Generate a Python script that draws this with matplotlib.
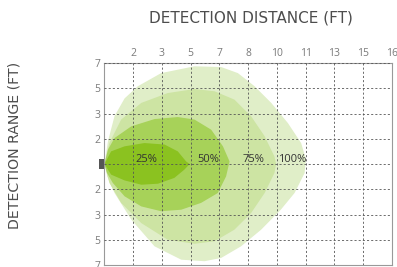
import matplotlib
matplotlib.use("Agg")
import matplotlib.pyplot as plt
from matplotlib.patches import Polygon, Rectangle

# Axis tick labels
x_tick_labels = ["2", "3", "5", "7", "8", "10", "11", "13", "15", "16"]
y_tick_labels = ["7", "5", "3", "2", "", "2", "3", "5", "7"]

# Coverage zones (boundary outlines, grid units; x = distance index, y = range index)
zone_names = ["100%", "75%", "50%", "25%"]
zone100_x = [0, 0.12, 0.35, 0.7, 1.16, 1.97, 3.13, 4.06, 4.64, 5.22, 5.8, 6.38, 6.84, 7.01,
             6.96, 6.61, 6.14, 5.45, 4.75, 4.06, 3.48, 2.67, 1.74, 0.93, 0.35, 0.1]
zone100_y = [0, 0.9, 1.9, 2.6, 3.08, 3.6, 3.87, 3.84, 3.6, 3.08, 2.42, 1.62, 0.83, 0.17,
             -0.36, -1.15, -1.8, -2.6, -3.26, -3.72, -3.85, -3.79, -3.26, -2.2, -1.15, -0.5]
zone75_x = [0, 0.17, 0.58, 1.28, 2.2, 3.13, 3.83, 4.52, 5.1, 5.57, 5.91, 5.97,
            5.91, 5.57, 5.1, 4.52, 3.83, 3.13, 2.2, 1.28, 0.58, 0.17]
zone75_y = [0, 0.83, 1.76, 2.42, 2.81, 2.97, 2.88, 2.55, 1.89, 1.1, 0.3, 0,
            -0.36, -1.15, -1.94, -2.6, -3.06, -3.16, -3.0, -2.34, -1.54, -0.75]
zone50_x = [0, 0.12, 0.35, 0.93, 1.74, 2.55, 3.13, 3.71, 4.12, 4.35,
            4.23, 3.94, 3.36, 2.67, 1.97, 1.28, 0.7, 0.29, 0.09]
zone50_y = [0, 0.57, 1.03, 1.49, 1.78, 1.86, 1.76, 1.36, 0.7, 0.1,
            -0.49, -1.15, -1.54, -1.81, -1.87, -1.68, -1.28, -0.75, -0.36]
zone25_x = [0, 0.23, 0.7, 1.39, 2.09, 2.55, 2.84, 2.96, 2.78, 2.43, 1.86, 1.28, 0.7, 0.23]
zone25_y = [0, 0.5, 0.7, 0.83, 0.77, 0.5, 0.1, 0, -0.22, -0.55, -0.78, -0.82, -0.65, -0.42]
label_x = [6.51, 5.18, 3.61, 1.47]
label_y = [0.17, 0.17, 0.17, 0.17]

zone_colors = ["#e0eec8", "#cde4a3", "#a7d259", "#8bc220"]
zones = [(zone100_x, zone100_y), (zone75_x, zone75_y), (zone50_x, zone50_y), (zone25_x, zone25_y)]

fig = plt.figure(figsize=(3.97, 2.67), dpi=100)
ax = fig.add_axes([0.2632, 0.0075, 0.7242, 0.7565])
ax.set_xlim(0, 10)
ax.set_ylim(-4, 4)

for (zx, zy), c in zip(zones, zone_colors):
    ax.add_patch(Polygon(list(zip(zx, zy)), closed=True, facecolor=c, edgecolor="none",
                         joinstyle="round", zorder=1))

ax.set_xticks(range(1, 11))
ax.set_xticklabels(x_tick_labels)
ax.set_yticks(range(4, -5, -1))
ax.set_yticklabels(y_tick_labels)
ax.xaxis.tick_top()
ax.tick_params(axis="both", length=0, labelsize=7.5, colors="#7a7a7a", pad=3)
for t in ax.get_xticklabels() + ax.get_yticklabels():
    t.set_family("Open Sans")
ax.grid(True, color="#555555", linestyle=(0, (2.5, 2.5)), linewidth=0.6, zorder=2)
ax.set_axisbelow(False)
for s in ax.spines.values():
    s.set_color("#999999")
    s.set_linewidth(0.8)

for name, lx, ly in zip(zone_names, label_x, label_y):
    ax.text(lx, ly, name, ha="center", va="center", fontsize=8, color="#333333",
            family="Open Sans", zorder=3)

ax.add_patch(Rectangle((-0.2, -0.18), 0.2, 0.36, facecolor="#555555", edgecolor="none",
                       clip_on=False, zorder=4))

fig.text(0.632, 0.933, "DETECTION DISTANCE (FT)", ha="center", va="center", fontsize=11,
         color="#4d4d4d", family="DejaVu Sans")
fig.text(0.037, 0.457, "DETECTION RANGE (FT)", ha="center", va="center", fontsize=10.2,
         color="#4d4d4d", family="DejaVu Sans", rotation=90)

fig.savefig("out.png", dpi=100)
